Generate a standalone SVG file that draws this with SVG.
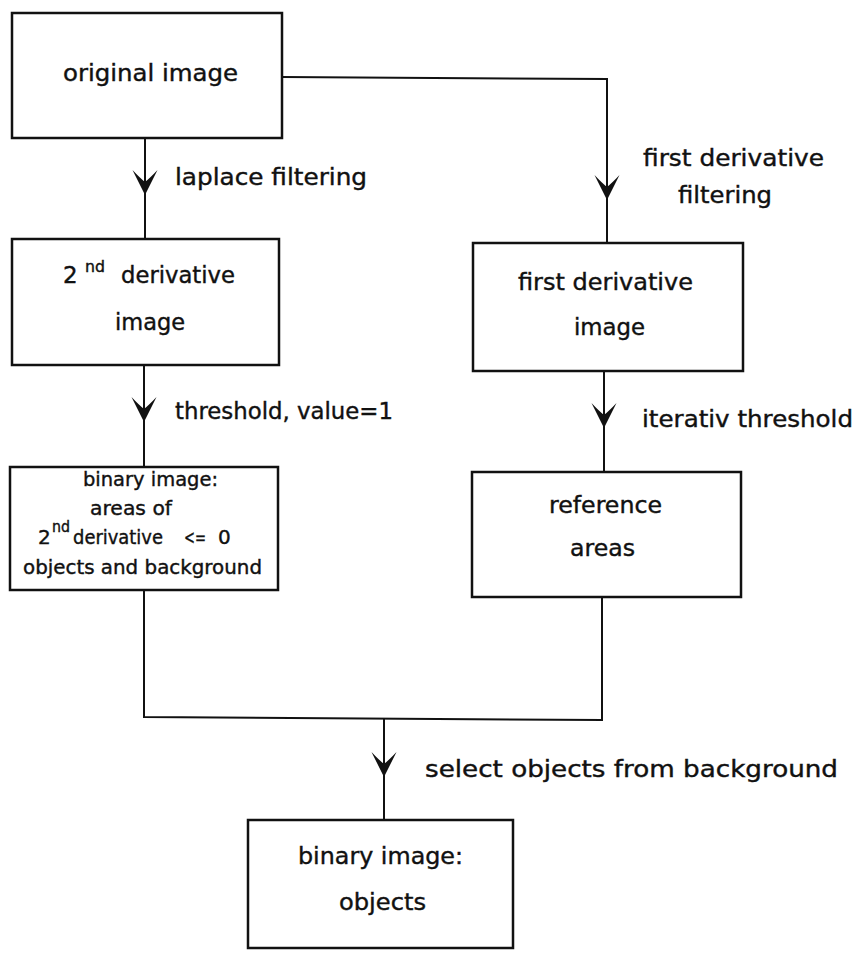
<svg xmlns="http://www.w3.org/2000/svg" xmlns:xlink="http://www.w3.org/1999/xlink" width="860" height="959" viewBox="0 0 860 959">
<style>
.box{fill:none;stroke:#111;stroke-width:2.5}
.ln{fill:none;stroke:#111;stroke-width:2}
text{font-family:"DejaVu Sans","Liberation Sans",sans-serif;font-size:23px;fill:#111;stroke:#111;stroke-width:0.4}
.sm{font-size:20px}
.sup{font-size:15px}
</style>
<defs>
<path id="ah" d="M0,0 L-12.5,-25 Q-5,-17 0,-13 Q5,-17 12.5,-25 Z" fill="#111"/>
</defs>
<rect width="860" height="959" fill="#fff"/>
<g id="connectors">
<line class="ln" x1="145" y1="138" x2="145" y2="239"/>
<use xlink:href="#ah" x="145" y="195"/>
<polyline class="ln" points="282,77 607,79 607,243"/>
<use xlink:href="#ah" x="607" y="200"/>
<line class="ln" x1="144" y1="365" x2="144" y2="467"/>
<use xlink:href="#ah" x="144" y="422"/>
<line class="ln" x1="604" y1="371" x2="604" y2="472"/>
<use xlink:href="#ah" x="604" y="428"/>
<polyline class="ln" points="144,590 144,717 602,720 602,597"/>
<line class="ln" x1="384" y1="718" x2="384" y2="821"/>
<use xlink:href="#ah" x="384" y="777"/>
</g>
<g id="labels">
<text x="175" y="185" textLength="192" lengthAdjust="spacingAndGlyphs">laplace filtering</text>
<text x="643" y="166" textLength="181" lengthAdjust="spacingAndGlyphs">first derivative</text>
<text x="678" y="203" textLength="94" lengthAdjust="spacingAndGlyphs">filtering</text>
<text x="175" y="419" textLength="218" lengthAdjust="spacingAndGlyphs">threshold, value=1</text>
<text x="642" y="427" textLength="211" lengthAdjust="spacingAndGlyphs">iterativ threshold</text>
<text x="425" y="777" textLength="413" lengthAdjust="spacingAndGlyphs">select objects from background</text>
</g>
<g id="n1">
<rect class="box" x="12" y="13" width="270" height="125"/>
<text x="63" y="81" textLength="175" lengthAdjust="spacingAndGlyphs">original image</text>
</g>
<g id="n2">
<rect class="box" x="12" y="239" width="267" height="126"/>
<text x="63" y="283">2</text>
<text class="sup" x="85" y="272" textLength="20" lengthAdjust="spacingAndGlyphs">nd</text>
<text x="121" y="283" textLength="114" lengthAdjust="spacingAndGlyphs">derivative</text>
<text x="115" y="330" textLength="70" lengthAdjust="spacingAndGlyphs">image</text>
</g>
<g id="n3">
<rect class="box" x="10" y="467" width="268" height="123"/>
<text class="sm" x="83" y="486" textLength="135" lengthAdjust="spacingAndGlyphs">binary image:</text>
<text class="sm" x="90" y="515" textLength="82" lengthAdjust="spacingAndGlyphs">areas of</text>
<text class="sm" x="38" y="544">2</text>
<text class="sup" x="52" y="532" textLength="18" lengthAdjust="spacingAndGlyphs">nd</text>
<text class="sm" x="73" y="544" textLength="90" lengthAdjust="spacingAndGlyphs">derivative</text>
<text class="sm" x="184" y="544" textLength="22" lengthAdjust="spacingAndGlyphs">&lt;=</text>
<text class="sm" x="218" y="544">0</text>
<text class="sm" x="23" y="574" textLength="239" lengthAdjust="spacingAndGlyphs">objects and background</text>
</g>
<g id="n4">
<rect class="box" x="473" y="243" width="270" height="128"/>
<text x="518" y="290" textLength="175" lengthAdjust="spacingAndGlyphs">first derivative</text>
<text x="574" y="335" textLength="71" lengthAdjust="spacingAndGlyphs">image</text>
</g>
<g id="n5">
<rect class="box" x="472" y="472" width="269" height="125"/>
<text x="549" y="513" textLength="113" lengthAdjust="spacingAndGlyphs">reference</text>
<text x="570" y="556" textLength="65" lengthAdjust="spacingAndGlyphs">areas</text>
</g>
<g id="n6">
<rect class="box" x="248" y="820" width="265" height="128"/>
<text x="298" y="864" textLength="165" lengthAdjust="spacingAndGlyphs">binary image:</text>
<text x="339" y="910" textLength="87" lengthAdjust="spacingAndGlyphs">objects</text>
</g>
</svg>
